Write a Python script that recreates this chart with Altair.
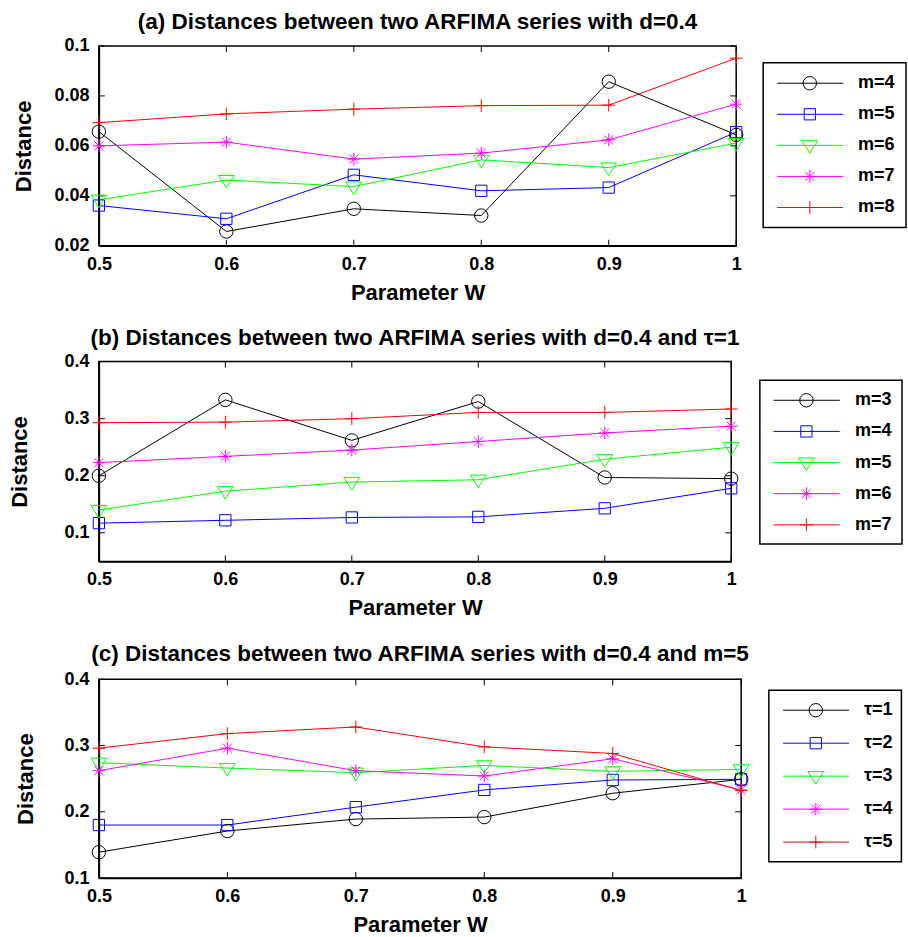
import altair as alt
import pandas as pd

# ---------------- data ----------------
W = [0.5, 0.6, 0.7, 0.8, 0.9, 1.0]

# panel (a)
a_labels = ["m=4", "m=5", "m=6", "m=7", "m=8"]
a_m4 = [0.0657, 0.0257, 0.0348, 0.0321, 0.0857, 0.0644]
a_m5 = [0.0361, 0.0308, 0.0484, 0.0420, 0.0433, 0.0655]
a_m6 = [0.0384, 0.0463, 0.0437, 0.0544, 0.0513, 0.0611]
a_m7 = [0.0600, 0.0615, 0.0547, 0.0571, 0.0624, 0.0767]
a_m8 = [0.0693, 0.0728, 0.0747, 0.0761, 0.0763, 0.0951]
a_yticks = [0.02, 0.04, 0.06, 0.08, 0.1]

# panel (b)
b_labels = ["m=3", "m=4", "m=5", "m=6", "m=7"]
b_m3 = [0.200, 0.333, 0.262, 0.330, 0.197, 0.195]
b_m4 = [0.117, 0.122, 0.127, 0.128, 0.143, 0.178]
b_m5 = [0.140, 0.173, 0.189, 0.193, 0.229, 0.250]
b_m6 = [0.223, 0.234, 0.245, 0.260, 0.275, 0.287]
b_m7 = [0.293, 0.294, 0.300, 0.311, 0.311, 0.317]
b_yticks = [0.1, 0.2, 0.3, 0.4]

# panel (c)
c_labels = ["τ=1", "τ=2", "τ=3", "τ=4", "τ=5"]
c_t1 = [0.139, 0.171, 0.189, 0.192, 0.228, 0.249]
c_t2 = [0.180, 0.180, 0.207, 0.233, 0.248, 0.249]
c_t3 = [0.274, 0.266, 0.259, 0.270, 0.261, 0.264]
c_t4 = [0.262, 0.296, 0.262, 0.254, 0.280, 0.233]
c_t5 = [0.296, 0.318, 0.328, 0.298, 0.288, 0.232]
c_yticks = [0.1, 0.2, 0.3, 0.4]

# ---------------- style ----------------
FONT = "Liberation Sans"
COLORS = ["#000000", "#0000ff", "#00ff00", "#ff00ff", "#ff0000"]
SQUARE = "M-0.84,-0.84L0.84,-0.84L0.84,0.84L-0.84,0.84Z"
TRI = "M-1.17,-0.69L1.17,-0.69L0,1.19Z"
STAR = "M0,-0.95L0,0.95M-0.95,0L0.95,0M-0.67,-0.67L0.67,0.67M-0.67,0.67L0.67,-0.67"
PLUS = "M0,-0.95L0,0.95M-0.95,0L0.95,0"
SHAPES = ["circle", SQUARE, TRI, STAR, PLUS]
MSIZE = 180
TICK = 6


def panel(title, labels, series, y_dom, y_ticks, y_fmt, w, h, ext, tpad, toff, leg):
    rows = []
    for lab, vals in zip(labels, series):
        for x, v in zip(W, vals):
            rows.append({"W": x, "Distance": v, "series": lab})
    df = pd.DataFrame(rows)

    color = alt.Color("series:N", scale=alt.Scale(domain=labels, range=COLORS), legend=None)
    shape = alt.Shape("series:N", scale=alt.Scale(domain=labels, range=SHAPES), legend=None)
    xs = alt.Scale(domain=[0.5, 1.0], nice=False, zero=False)
    ys = alt.Scale(domain=y_dom, nice=False, zero=False)
    xaxis = alt.Axis(values=W, format=".1~f", title="Parameter W", labelFlush=False,
                     labelOverlap=False, labelPadding=9.5, titlePadding=9)
    yaxis = alt.Axis(values=y_ticks, format=y_fmt, title="Distance", labelOverlap=False,
                     labelPadding=10, minExtent=ext, maxExtent=ext, titlePadding=tpad)
    X = alt.X("W:Q", scale=xs, axis=xaxis)
    Y = alt.Y("Distance:Q", scale=ys, axis=yaxis)

    lines = alt.Chart(df).mark_line(strokeWidth=1).encode(x=X, y=Y, color=color)
    pts = alt.Chart(df).mark_point(filled=False, size=MSIZE, strokeWidth=1, opacity=1).encode(
        x=X, y=Y, color=color, shape=shape)

    tx = pd.DataFrame({"W": W})
    ty = pd.DataFrame({"Distance": y_ticks})
    tb = alt.Chart(tx).mark_rule(color="black", strokeWidth=1).encode(
        x=X, y=alt.value(h), y2=alt.value(h - TICK))
    tt = alt.Chart(tx).mark_rule(color="black", strokeWidth=1).encode(
        x=X, y=alt.value(0), y2=alt.value(TICK))
    tl = alt.Chart(ty).mark_rule(color="black", strokeWidth=1).encode(
        y=Y, x=alt.value(0), x2=alt.value(TICK))
    tr = alt.Chart(ty).mark_rule(color="black", strokeWidth=1).encode(
        y=Y, x=alt.value(w - TICK), x2=alt.value(w))

    plot = alt.layer(tb, tt, tl, tr, lines, pts)

    # legend (drawn outside the plot area, to the right)
    ldf = pd.DataFrame({"series": labels})
    LY = alt.Y("series:N", axis=None,
               scale=alt.Scale(type="point", domain=labels, range=[leg["y0"], leg["y1"]], padding=0))
    box = alt.Chart(pd.DataFrame({"k": [0]})).mark_rect(
        fill="white", stroke="black", strokeWidth=1.5).encode(
        x=alt.value(leg["bx0"]), x2=alt.value(leg["bx1"]),
        y=alt.value(leg["by0"]), y2=alt.value(leg["by1"]))
    lrule = alt.Chart(ldf).mark_rule(strokeWidth=1).encode(
        x=alt.value(leg["lx0"]), x2=alt.value(leg["lx1"]), y=LY, color=color)
    lpts = alt.Chart(ldf).mark_point(filled=False, size=MSIZE, strokeWidth=1, opacity=1).encode(
        x=alt.value(leg["mx"]), y=LY, color=color, shape=shape)
    ltxt = alt.Chart(ldf).mark_text(align="left", baseline="middle", font=FONT, fontSize=18,
                                    fontWeight="bold", color="black").encode(
        x=alt.value(leg["tx"]), y=LY, text="series:N")
    legend = alt.layer(box, lrule, lpts, ltxt)

    return alt.layer(plot, legend).resolve_scale(y="independent").properties(
        width=w, height=h,
        title=alt.TitleParams(text=title, font=FONT, fontSize=22.5, fontWeight="bold",
                              anchor="middle", frame="group", offset=toff, color="black"))


pa = panel("(a) Distances between two ARFIMA series with d=0.4", a_labels,
           [a_m4, a_m5, a_m6, a_m7, a_m8], [0.02, 0.1], a_yticks, ".2~f",
           638, 200, 45, 18, 3,
           dict(y0=37.3, y1=161.7, bx0=665, bx1=808, by0=16.7, by1=181.7,
                lx0=679, lx1=745, mx=711.7, tx=760))
pb = panel("(b) Distances between two ARFIMA series with d=0.4 and τ=1", b_labels,
           [b_m3, b_m4, b_m5, b_m6, b_m7], [0.05, 0.4], b_yticks, ".1f",
           633, 200, 45, 22, 3,
           dict(y0=38.7, y1=163.4, bx0=661.7, bx1=804, by0=18.7, by1=182.7,
                lx0=675.3, lx1=741.7, mx=708.3, tx=757))
pc = panel("(c) Distances between two ARFIMA series with d=0.4 and m=5", c_labels,
           [c_t1, c_t2, c_t3, c_t4, c_t5], [0.1, 0.4], c_yticks, ".1f",
           643, 199, 45, 16, 5,
           dict(y0=31, y1=163, bx0=670.7, bx1=803.4, by0=11, by1=182.7,
                lx0=685, lx1=751, mx=717.7, tx=766))

chart = alt.concat(pa, pb, pc, columns=1, spacing=21, align="none").resolve_scale(
    color="independent", shape="independent"
).properties(
    padding={"left": 8, "top": 9.5, "right": 0, "bottom": 0},
    background="white",
).configure_view(stroke="black", strokeWidth=1.5).configure_axis(
    labelFont=FONT, labelFontSize=18, labelFontWeight="bold", labelColor="black",
    titleFont=FONT, titleFontSize=22, titleFontWeight="bold", titleColor="black",
    grid=False, ticks=False, domainColor="black", domainWidth=1.5
)

chart.save("out.html", embed_options={"renderer": "svg", "actions": False})
